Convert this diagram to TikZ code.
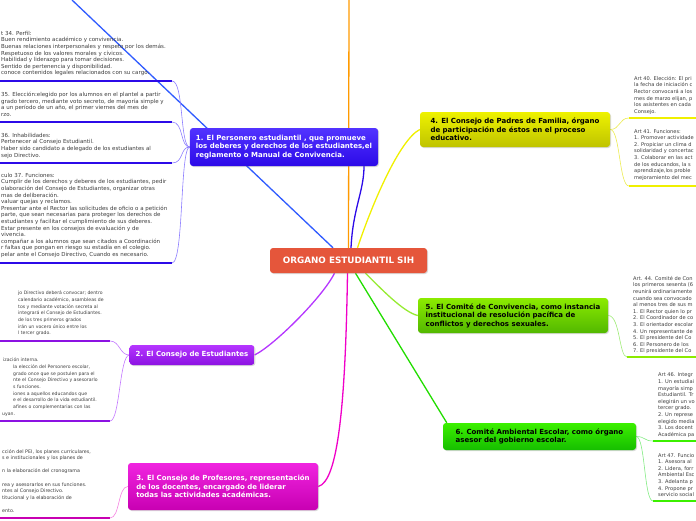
\documentclass[tikz,border=0pt]{standalone}
\usepackage{fontspec}
\setmainfont{DejaVu Sans}
\usepackage{xcolor}
\usepackage{tikz}
\usetikzlibrary{shadows,backgrounds}

\definecolor{rootred}{HTML}{E5563B}
\definecolor{notegray}{HTML}{3C3C3C}
\definecolor{blueA}{HTML}{5233FF}
\definecolor{blueB}{HTML}{2C0AE8}
\definecolor{violA}{HTML}{B536FF}
\definecolor{violB}{HTML}{8C12E2}
\definecolor{magA}{HTML}{F024E0}
\definecolor{magB}{HTML}{C800B2}
\definecolor{yelA}{HTML}{EEF200}
\definecolor{yelB}{HTML}{BFC300}
\definecolor{limeA}{HTML}{8CEB00}
\definecolor{limeB}{HTML}{52B800}
\definecolor{grnA}{HTML}{3CF000}
\definecolor{grnB}{HTML}{16BE00}

\begin{document}
\begin{tikzpicture}[x=1pt,y=-1pt,
  every node/.style={font=\fontsize{5.5}{6.6}\selectfont},
  topic/.style={rounded corners=3pt,align=left,inner xsep=6pt,inner ysep=0pt,
    font=\bfseries\fontsize{7}{8.5}\selectfont,
    drop shadow={opacity=0.3,shadow xshift=1pt,shadow yshift=-1pt}},
  note/.style={anchor=north west,align=left,inner sep=0pt,text=notegray},
  smallnote/.style={note,font=\fontsize{4.6}{6.65}\selectfont},
  sidenote/.style={note,font=\fontsize{5.1}{6.6}\selectfont},
  link/.style={line width=1.3pt},
  twig/.style={line width=0.6pt},
  bar/.style={line width=2.4pt}]
  \useasboundingbox (0,0) rectangle (696,520);
  \clip (0,0) rectangle (696,520);

  % central topic
  \node[rounded corners=3pt,fill=rootred,text=white,minimum width=157pt,minimum height=25pt,
    font=\bfseries\fontsize{8.8}{10}\selectfont,
    drop shadow={opacity=0.3,shadow xshift=1pt,shadow yshift=-1pt}]
    (root) at (348.5,260.5) {ORGANO ESTUDIANTIL SIH};
  \coordinate (offtop) at (349,0);
  \coordinate (offleft) at (72,0);

  % branches
  \node[topic,top color=blueA,bottom color=blueB,text=white,minimum width=188pt,minimum height=38pt]
    (n1) at (284,147) {1. El Personero estudiantil , que promueve\\los deberes y derechos de los estudiantes,el\\reglamento o Manual de Convivencia.};
  \node[topic,top color=violA,bottom color=violB,text=white,minimum width=124pt,minimum height=20pt]
    (n2) at (192,355) {2. El Consejo de Estudiantes};
  \node[topic,top color=magA,bottom color=magB,text=white,minimum width=190pt,minimum height=47pt]
    (n3) at (223,486.5) {3. El Consejo de Profesores, representación\\de los docentes, encargado de liderar\\todas las actividades académicas.};
  \node[topic,top color=yelA,bottom color=yelB,text=black,minimum width=190pt,minimum height=35pt]
    (n4) at (515,129.5) {4. El Consejo de Padres de Familia, órgano\\de participación de éstos en el proceso\\educativo.};
  \node[topic,top color=limeA,bottom color=limeB,text=black,minimum width=190pt,minimum height=35pt]
    (n5) at (513,315.5) {5. El Comité de Convivencia, como instancia\\institucional de resolución pacífica de\\conflictos y derechos sexuales.};
  \node[topic,top color=grnA,bottom color=grnB,text=black,minimum width=193pt,minimum height=27pt]
    (n6) at (539.5,436.5) {6. Comité Ambiental Escolar, como órgano\\asesor del gobierno escolar.};

  % notes of 1
  \node[note] (art34) at (1,31) {t 34. Perfil:\\Buen rendimiento académico y convivencia.\\Buenas relaciones interpersonales y respeto por los demás.\\Respetuoso de los valores morales y cívicos.\\Habilidad y liderazgo para tomar decisiones.\\Sentido de pertenencia y disponibilidad.\\conoce contenidos legales relacionados con su cargo.};
  \node[note] (art35) at (1,92) {35. Elección:elegido por los alumnos en el plantel a partir\\grado tercero, mediante voto secreto, de mayoría simple y\\a un período de un año, el primer viernes del mes de\\rzo.};
  \node[note] (art36) at (1,133) {36. Inhabilidades:\\Pertenecer al Consejo Estudiantil.\\Haber sido candidato a delegado de los estudiantes al\\sejo Directivo.};
  \node[note] (art37) at (1,173) {culo 37. Funciones:\\Cumplir de los derechos y deberes de los estudiantes, pedir\\olaboración del Consejo de Estudiantes, organizar otras\\mas de deliberación.\\valuar quejas y reclamos.\\Presentar ante el Rector las solicitudes de oficio o a petición\\parte, que sean  necesarias para proteger los derechos de\\estudiantes y facilitar el cumplimiento de sus deberes.\\Estar presente en los consejos de evaluación y de\\vivencia.\\compañar a los alumnos que sean citados a Coordinación\\r faltas que pongan en riesgo su estadía en el colegio.\\pelar ante el Consejo Directivo, Cuando es  necesario.};
  \coordinate (u34) at (172,81);
  \coordinate (u35) at (172,122);
  \coordinate (u36) at (172,163);
  \coordinate (u37) at (172,263);

  % notes of 2
  \node[smallnote] (eleccion) at (18,291) {jo Directivo deberá convocar; dentro\\calendario académico, asambleas de\\tos y mediante votación secreta al\\integrará el Consejo de Estudiantes.\\de los tres primeros grados\\irán un vocero único entre los\\l tercer grado.};
  \node[smallnote] (funciones) at (13,358) {\hspace*{-10pt}ización interna.\\la elección del Personero escolar,\\grado once que se postulen para el\\nte el Consejo Directivo y asesorarlo\\s funciones.\\iones a aquellos educandos que\\e el desarrollo de la vida estudiantil.\\afines o complementarias con las\\\hspace*{-11pt}uyan.};
  \coordinate (ue) at (110,341);
  \coordinate (uf) at (110,421);

  % notes of 3
  \node[smallnote,font=\fontsize{4.8}{6.6}\selectfont] (profes) at (2,449) {cción del PEI, los planes curriculares,\\s e institucionales y los planes de\\\mbox{}\\n la elaboración del cronograma\\\mbox{}\\rea y asesorarlos en sus funciones.\\ntes al Consejo Directivo.\\titucional y la elaboración de\\\mbox{}\\ento.};
  \coordinate (up) at (110,518);

  % notes of 4
  \node[sidenote] (art40) at (634,76) {Art 40. Elección: El pri\\la fecha de iniciación c\\Rector convocará a los\\mes de marzo elijan, p\\los asistentes en cada\\Consejo.};
  \node[sidenote] (art41) at (634,129) {Art 41. Funciones:\\1. Promover actividade\\2. Propiciar un clima d\\solidaridad y concertac\\3. Colaborar en las act\\de los educandos, la s\\aprendizaje,los proble\\mejoramiento del mec};
  \coordinate (u40) at (629,118);
  \coordinate (u41) at (629,186);

  % notes of 5
  \node[sidenote] (art44) at (633,276) {Art. 44. Comité de Con\\los primeros sesenta (6\\reunirá ordinariamente\\cuando sea convocado\\al menos tres de sus m\\1. El Rector quien lo pr\\2. El Coordinador de co\\3. El orientador escolar\\4. Un representante de\\5. El presidente del Co\\6. El Personero de los\\7. El presidente del Co};
  \coordinate (u44) at (627,357);

  % notes of 6
  \node[sidenote] (art46) at (658,373) {Art 46. Integr\\1. Un estudiai\\mayoría simp\\Estudiantil. Tr\\elegirán un vo\\tercer grado.\\2. Un represe\\elegido media\\3. Los docent\\Académica pa};
  \node[sidenote] (art47) at (658,453) {Art 47. Funcio\\1. Asesora al\\2. Lidera, forr\\Ambiental Esc\\3. Adelanta p\\4. Propone pr\\servicio social};
  \coordinate (u46) at (653,441);
  \coordinate (u47) at (653,501);

  \begin{scope}[on background layer]
    % from the centre
    \draw[link,color={rgb,255:red,255;green,154;blue,0}] (root.north) -- (offtop);
    \draw[link,color={rgb,255:red,47;green,91;blue,255}] ([xshift=-15.5pt]root.north) -- (offleft);
    \draw[link,color=blueB] ([xshift=2.5pt]root.north) .. controls +(2,-40) and +(0,25) .. ([xshift=80pt]n1.south);
    \draw[link,color={rgb,255:red,240;green,240;blue,0}] ([xshift=9pt]root.north) .. controls +(15,-45) and +(-20,10) .. (n4.west);
    \draw[link,color=violA] ([xshift=-14pt]root.south) .. controls +(-12,24) and +(20,-10) .. (n2.east);
    \draw[link,color={rgb,255:red,240;green,0;blue,200}] ([xshift=-1pt]root.south) .. controls +(-2,130) and +(20,-5) .. (n3.east);
    \draw[link,color={rgb,255:red,34;green,221;blue,0}] ([xshift=7pt]root.south) -- ([xshift=4pt]n6.north west);
    \draw[link,color={rgb,255:red,150;green,235;blue,50}] ([xshift=17pt]root.south) .. controls +(15,15) and +(-14,-3) .. (n5.west);

    % underlines and twigs
    \foreach \u in {u34,u35,u36,u37}{
      \draw[bar,color=blueB] (0,0 |- \u) -- (\u);
      \draw[twig,color={rgb,255:red,140;green,125;blue,255}] (n1.west) .. controls +(-10,0) and +(12,0) .. (\u);
    }
    \foreach \u in {ue,uf}{
      \draw[bar,color=violB] (0,0 |- \u) -- (\u);
      \draw[twig,color={rgb,255:red,195;green,120;blue,255}] (n2.west) .. controls +(-10,0) and +(10,0) .. (\u);
    }
    \draw[bar,color=magB] (0,0 |- up) -- (up);
    \draw[twig,color={rgb,255:red,245;green,130;blue,225}] (n3.west) .. controls +(-10,0) and +(10,0) .. (up);
    \foreach \u in {u40,u41}{
      \draw[bar,color={rgb,255:red,240;green,240;blue,0}] (\u) -- (696,0 |- \u);
      \draw[twig,color={rgb,255:red,235;green,235;blue,80}] (n4.east) .. controls +(10,0) and +(-10,0) .. (\u);
    }
    \draw[bar,color=limeA] (u44) -- (696,0 |- u44);
    \draw[twig,color={rgb,255:red,160;green,235;blue,120}] (n5.east) .. controls +(12,0) and +(-8,0) .. (u44);
    \foreach \u in {u46,u47}{
      \draw[bar,color=grnA] (\u) -- (696,0 |- \u);
      \draw[twig,color={rgb,255:red,130;green,235;blue,130}] (n6.east) .. controls +(9,0) and +(-9,0) .. (\u);
    }
  \end{scope}
\end{tikzpicture}
\end{document}
